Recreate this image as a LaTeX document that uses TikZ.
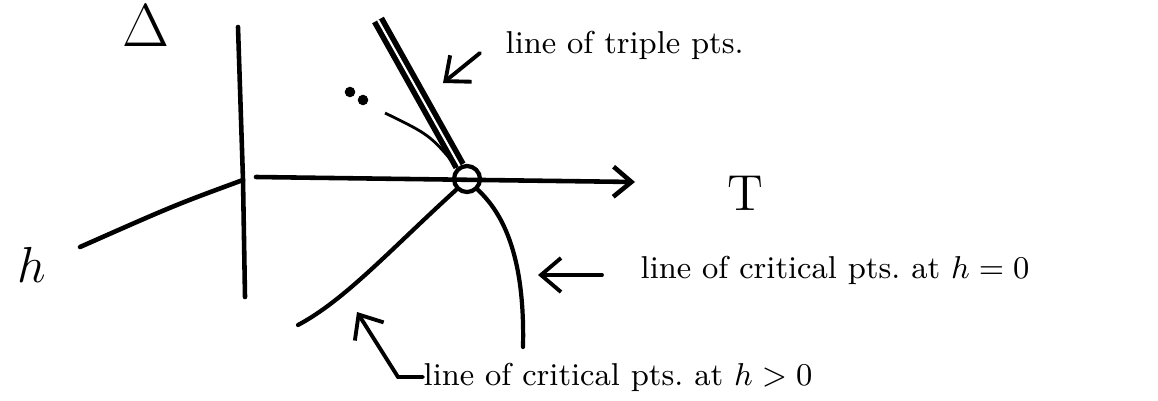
\documentclass[tikz,border=0pt]{standalone}
\usetikzlibrary{arrows.meta,positioning,calc}
\tikzset{
  axisline/.style={line width=1.3pt, line cap=round},
  curveline/.style={line width=1.2pt, line cap=round},
  tripleline/.style={line width=1.6pt, double=white, double distance=0.6pt},
  pointer/.style={line width=1.1pt, line cap=round, -{Straight Barb[length=2mm,width=3.4mm]}},
  notetext/.style={font=\small, inner sep=0pt, anchor=west},
  critpt/.style={circle, draw, line width=1.2pt, minimum size=0.26cm, inner sep=0pt},
}
\begin{document}
\begin{tikzpicture}[x=0.01cm, y=-0.01cm]
  \useasboundingbox (0,0) rectangle (1158,400);
  % axes
  \node[font=\LARGE] (delta) at (146,26) {$\Delta$};
  \coordinate (origin) at (243,180);
  \coordinate (vtop) at (238,27);
  \coordinate (vbot) at (245,297);
  \coordinate (hend) at (80,247);
  \coordinate (tstart) at (256,177);
  \coordinate (tend) at (635,182);
  \draw[axisline] (vtop) -- (origin) -- (vbot);
  \draw[axisline] (origin) .. controls (175,205) .. (hend);
  \draw[axisline,-{Straight Barb[length=1.8mm,width=3mm]}] (tstart) -- (tend);
  \node (hlab) at (32,265) {\Large$h$};
  \node (tlab) at (745,193) {\Large T};
  % critical point and triple line
  \node[critpt] (crit) at (467,179) {};
  \coordinate (ttop) at (378,20);
  \draw[tripleline] (crit) -- (ttop);
  \coordinate (fainttop) at (385,113);
  \draw[line width=0.8pt] (fainttop) .. controls (430,135) .. (crit);
  \fill (350,92) circle (1.5pt);
  \fill (363,100) circle (1.5pt);
  % critical lines
  \coordinate (hpos) at (298,325);
  \coordinate (hzero) at (523,347);
  \draw[curveline] (crit.south west) .. controls (390,250) and (345,300) .. (hpos);
  \draw[curveline] (crit.south east) .. controls (505,215) and (525,260) .. (hzero);
  % labels
  \coordinate (tripend) at (443,83);
  \coordinate (hooktip) at (357,312);
  \node[notetext] (triplab) at (505,45) {line of triple pts.};
  \draw[pointer] ([shift={(-25,8)}]triplab.west) -- (tripend);
  \node[notetext] (zerolab) at (640,270) {line of critical pts.\ at $h=0$};
  \draw[pointer] ([shift={(-38,5)}]zerolab.west) -- ++(-64,0);
  \node[notetext] (poslab) at (423,377) {line of critical pts.\ at $h>0$};
  \draw[pointer] (poslab.west) -- ++(-25,0) -- (hooktip);
\end{tikzpicture}
\end{document}
